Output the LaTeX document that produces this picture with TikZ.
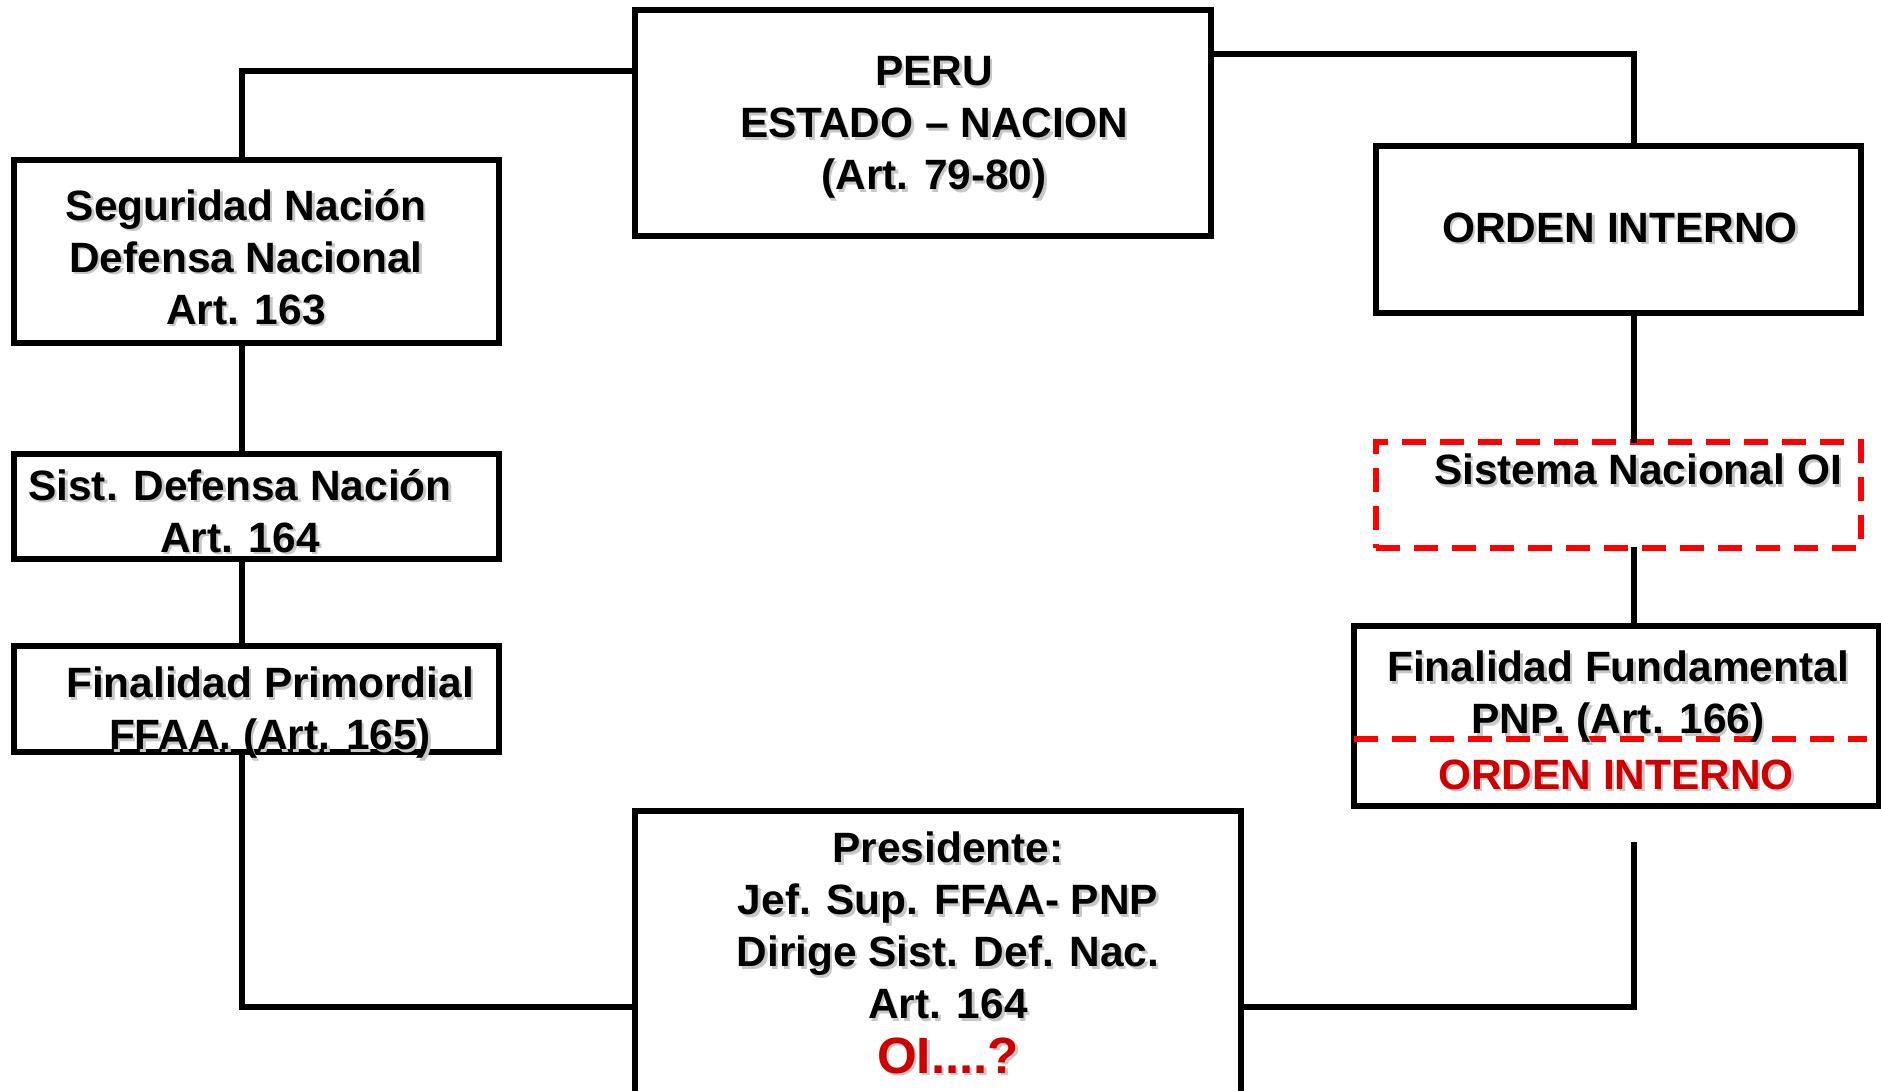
\documentclass[tikz,border=0pt]{standalone}
\usepackage{fontspec}
\setmainfont{Liberation Sans}
\definecolor{oired}{RGB}{204,0,0}
\definecolor{dashred}{RGB}{255,0,0}
\newcommand\shd[1]{\leavevmode\rlap{\kern2.5pt\raisebox{-2.5pt}{\textcolor{black!22}{#1}}}#1}
\begin{document}
\begin{tikzpicture}[x=1pt,y=-1pt,
  box/.style={draw, line width=6pt, rectangle, inner sep=0pt, fill=white},
  dbox/.style={draw=dashred, line width=6pt, dash pattern=on 24pt off 14pt, rectangle, inner sep=0pt, fill=white},
  dline/.style={draw=dashred, line width=6pt, dash pattern=on 24pt off 14pt},
  txt/.style={align=center, font=\bfseries\fontsize{42.4}{52}\selectfont, inner sep=0pt},
  bigtxt/.style={align=center, font=\bfseries\fontsize{51}{56}\selectfont, inner sep=0pt, text=oired},
  conn/.style={line width=6pt}]
\useasboundingbox (0,0) rectangle (1881,1090);
\clip (0,0) rectangle (1881,1090);

% boxes
\node[box, minimum width=576pt, minimum height=226pt] (peru) at (923,123) {};
\node[box, minimum width=485pt, minimum height=183pt] (seg) at (256.5,251.5) {};
\node[box, minimum width=485pt, minimum height=105pt] (sist) at (256.5,506.5) {};
\node[box, minimum width=485pt, minimum height=106pt] (fprim) at (256.5,699) {};
\node[box, minimum width=485pt, minimum height=167pt] (oi) at (1618.5,229.5) {};
\node[dbox, minimum width=485pt, minimum height=106pt] (snoi) at (1618.5,495) {};
\node[box, minimum width=525pt, minimum height=180pt] (ffund) at (1616.5,716) {};
\node[box, minimum width=606pt, minimum height=299pt] (pres) at (938,960.5) {};

% connector helper coordinates
\coordinate (cL) at (242,71);
\coordinate (cR) at (1634,54);
\coordinate (cB) at (242,1007);
\coordinate (cRs) at (1634,842);
\coordinate (cRb) at (1634,1007);
\coordinate (dl) at (1354,739);
\coordinate (dr) at (1867,739);

% connectors
\draw[conn] (peru.west |- cL) -- (cL) -- (cL |- seg.north);
\draw[conn] (cL |- seg.south) -- (cL |- sist.north);
\draw[conn] (cL |- sist.south) -- (cL |- fprim.north);
\draw[conn] (cL |- fprim.south) -- (cB) -- (pres.west |- cB);
\draw[conn] (peru.east |- cR) -- (cR) -- (cR |- oi.north);
\draw[conn] (cR |- oi.south) -- ([yshift=-4pt]cR |- snoi.north);
\draw[conn] ([yshift=4pt]cR |- snoi.south) -- (cR |- ffund.north);
\draw[conn] (cRs) -- (cRb) -- (pres.east |- cRb);

% dashed divider
\draw[dline] (dl) -- (dr);

% texts
\node[txt] (tperu) at (934,129) {\shd{PERU}\\ \shd{ESTADO – NACION}\\ \shd{(Art. 79-80)}};
\node[txt] (tseg) at (246,258) {\shd{Seguridad Nación}\\ \shd{Defensa Nacional}\\ \shd{Art. 163}};
\node[txt] (tsist) at (240,512) {\shd{Sist. Defensa Nación}\\ \shd{Art. 164}};
\node[txt] (tfprim) at (270,714) {\shd{Finalidad Primordial}\\ \shd{FFAA. (Art. 165)}};
\node[txt] (toi) at (1620,229) {\shd{ORDEN INTERNO}};
\node[txt] (tsnoi) at (1638,471) {\shd{Sistema Nacional OI}};
\node[txt] (tffund) at (1618,698) {\shd{Finalidad Fundamental}\\ \shd{PNP. (Art. 166)}};
\node[txt, text=oired] (tffoi) at (1616,776) {\shd{ORDEN INTERNO}};
\node[txt] (tpres) at (948,927) {\shd{Presidente:}\\ \shd{Jef. Sup. FFAA- PNP}\\ \shd{Dirige Sist. Def. Nac.}\\ \shd{Art. 164}};
\node[bigtxt] (tpoi) at (948,1057) {\shd{OI....?}};
\end{tikzpicture}
\end{document}
